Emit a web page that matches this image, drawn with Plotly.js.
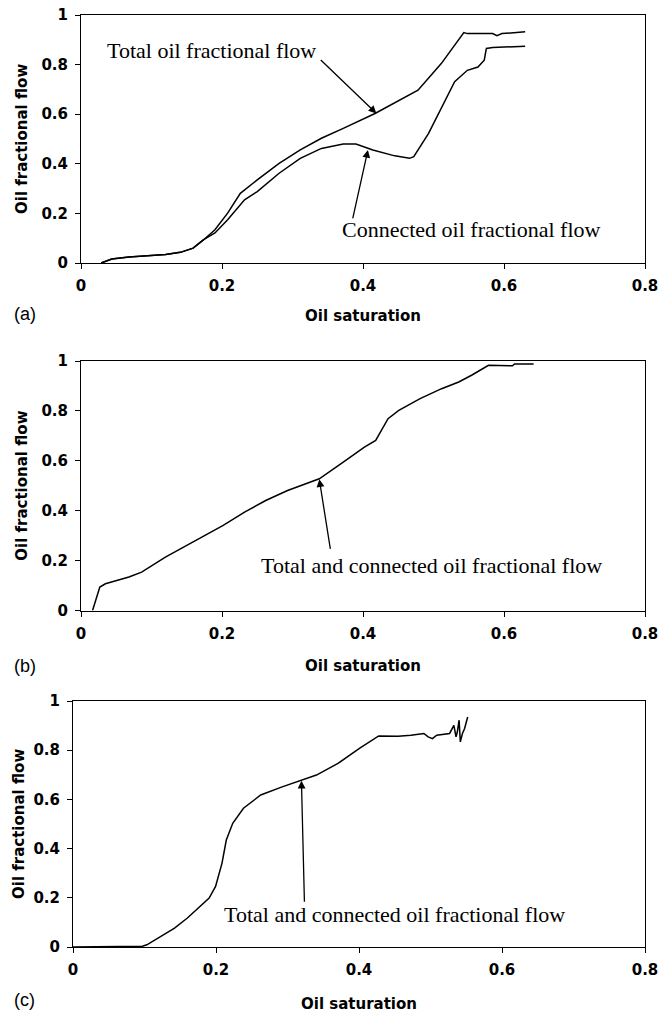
<!DOCTYPE html>
<html>
<head>
<meta charset="utf-8">
<script src="https://cdn.plot.ly/plotly-3.0.1.min.js"></script>
<style>
html,body{margin:0;padding:0;background:#fff;}
#chart{width:667px;height:1018px;}
</style>
</head>
<body>
<div id="chart"></div>
<script>
// ---- Data ----
const aTotalX = [0.0286,0.0437,0.068,0.098,0.12,0.141,0.159,0.174,0.19,0.208,0.226,0.25,0.281,0.311,0.341,0.372,0.417,0.478,0.511,0.543,0.548,0.584,0.590,0.597,0.630];
const aTotalY = [0,0.016,0.024,0.029,0.034,0.043,0.06,0.094,0.134,0.201,0.281,0.335,0.402,0.456,0.503,0.543,0.603,0.697,0.804,0.929,0.925,0.925,0.917,0.925,0.932];
const aConnX = [0.0286,0.0437,0.068,0.098,0.12,0.141,0.159,0.174,0.19,0.208,0.232,0.25,0.281,0.311,0.341,0.372,0.39,0.414,0.445,0.466,0.472,0.493,0.530,0.548,0.563,0.572,0.575,0.584,0.630];
const aConnY = [0,0.016,0.024,0.029,0.034,0.043,0.06,0.094,0.121,0.174,0.255,0.288,0.362,0.422,0.462,0.480,0.480,0.456,0.432,0.422,0.429,0.523,0.731,0.777,0.79,0.818,0.865,0.869,0.874];

const bX = [0.0164,0.0225,0.0267,0.0346,0.0498,0.068,0.086,0.1045,0.1197,0.141,0.171,0.2017,0.232,0.262,0.293,0.317,0.338,0.372,0.402,0.418,0.4265,0.4355,0.4508,0.481,0.5115,0.5358,0.554,0.578,0.612,0.615,0.642];
const bY = [0,0.053,0.094,0.107,0.120,0.134,0.154,0.187,0.214,0.247,0.294,0.341,0.394,0.441,0.481,0.507,0.528,0.595,0.655,0.682,0.722,0.769,0.802,0.849,0.889,0.916,0.943,0.983,0.981,0.988,0.988];

const cX = [0,0.0703,0.082,0.0913,0.097,0.1033,0.118,0.142,0.160,0.178,0.1904,0.1994,0.2084,0.2144,0.2234,0.2384,0.2625,0.2925,0.3195,0.3405,0.3706,0.4006,0.4276,0.4547,0.4727,0.4907,0.4967,0.5027,0.5087,0.5267,0.5327,0.5357,0.5375,0.54,0.5417,0.5447,0.5477,0.552];
const cY = [0,0.003,0.005,0.003,0.003,0.009,0.036,0.077,0.118,0.165,0.199,0.246,0.341,0.435,0.503,0.564,0.618,0.651,0.678,0.699,0.746,0.807,0.858,0.857,0.861,0.868,0.854,0.847,0.861,0.868,0.901,0.854,0.874,0.922,0.834,0.868,0.888,0.935];

const xTicks = [0,0.2,0.4,0.6,0.8];
const xTickLabels = ['0','0.2','0.4','0.6','0.8'];
const yTicks = [0,0.2,0.4,0.6,0.8,1];
const yTickLabels = ['0','0.2','0.4','0.6','0.8','1'];

const panelLabels = ['(a)','(b)','(c)'];
const xTitle = 'Oil saturation';
const yTitle = 'Oil fractional flow';
const labelTotal = 'Total oil fractional flow';
const labelConn = 'Connected oil fractional flow';
const labelBoth = 'Total and connected oil fractional flow';

// ---- Layout helpers ----
const W = 667, H = 1018;
const px = v => v / W;
const py = v => 1 - v / H;

const lineStyle = {color:'#000', width:1.5};
const sansBold = {family:'DejaVu Sans, Verdana, sans-serif', size:15, color:'#000', weight:'bold'};
const annFont = {family:'Liberation Serif, Times New Roman, serif', size:22, color:'#000'};

function xAxis(domain, anchor){
  return {domain:domain, anchor:anchor, range:[0,0.8], tickvals:xTicks, ticktext:xTickLabels,
    ticks:'outside', ticklen:5, tickwidth:1, tickcolor:'#000', ticklabelstandoff:4,
    showline:true, linecolor:'#000', linewidth:1, mirror:true,
    showgrid:false, zeroline:false, tickfont:sansBold, fixedrange:true};
}
function yAxis(domain, anchor){
  return {domain:domain, anchor:anchor, range:[0,1], tickvals:yTicks, ticktext:yTickLabels,
    ticks:'outside', ticklen:5, tickwidth:1, tickcolor:'#000', ticklabelstandoff:4,
    showline:true, linecolor:'#000', linewidth:1, mirror:true,
    showgrid:false, zeroline:false, tickfont:sansBold, fixedrange:true};
}

const traces = [
  {x:aTotalX, y:aTotalY, xaxis:'x', yaxis:'y', mode:'lines', line:lineStyle, name:labelTotal},
  {x:aConnX, y:aConnY, xaxis:'x', yaxis:'y', mode:'lines', line:lineStyle, name:labelConn},
  {x:bX, y:bY, xaxis:'x2', yaxis:'y2', mode:'lines', line:lineStyle, name:labelBoth},
  {x:cX, y:cY, xaxis:'x3', yaxis:'y3', mode:'lines', line:lineStyle, name:labelBoth}
];

function txt(xref, yref, x, y, text){
  return {xref:xref, yref:yref, x:x, y:y, text:text, showarrow:false, xanchor:'left', yanchor:'middle', font:annFont};
}
function arrow(xref, yref, x, y, ax, ay){
  return {xref:xref, yref:yref, axref:xref, ayref:yref, x:x, y:y, ax:ax, ay:ay, text:'',
    showarrow:true, arrowhead:2, arrowsize:1.2, arrowwidth:1.3, arrowcolor:'#000', standoff:0, startstandoff:0};
}
function plabel(x, y, t){
  return {xref:'paper', yref:'paper', x:px(x), y:py(y), text:t, showarrow:false, xanchor:'left', yanchor:'middle',
    font:{family:'Liberation Sans, Arial, sans-serif', size:18, color:'#000'}};
}
function xt(x, y){
  return {xref:'paper', yref:'paper', x:px(x), y:py(y), text:xTitle, showarrow:false, xanchor:'center', yanchor:'middle', font:sansBold};
}
function yt(x, y){
  return {xref:'paper', yref:'paper', x:px(x), y:py(y), text:yTitle, textangle:-90, showarrow:false, xanchor:'center', yanchor:'middle', font:sansBold};
}

// frame positions in pixels
const L1 = 81, L3 = 73, R = 645;
const A = [15, 263], B = [361, 610.5], C = [701, 947];

const annotations = [
  txt('x','y',0.0346,0.858,labelTotal),
  arrow('x','y',0.419,0.603,0.338,0.824),
  txt('x','y',0.368,0.134,labelConn),
  arrow('x','y',0.407,0.456,0.385,0.174),
  txt('x2','y2',0.253,0.18,labelBoth),
  arrow('x2','y2',0.338,0.526,0.354,0.241),
  txt('x3','y3',0.209,0.131,labelBoth),
  arrow('x3','y3',0.3195,0.676,0.3237,0.178),
  xt((L1+R)/2, A[1]+53), yt(22, (A[0]+A[1])/2),
  xt((L1+R)/2, B[1]+55), yt(22, (B[0]+B[1])/2),
  xt((L3+R)/2, C[1]+57), yt(19, (C[0]+C[1])/2),
  plabel(12, A[1]+51, panelLabels[0]),
  plabel(12, B[1]+55, panelLabels[1]),
  plabel(12, C[1]+53, panelLabels[2])
];

const layout = {
  width:W, height:H,
  margin:{l:0,r:0,t:0,b:0},
  paper_bgcolor:'#fff', plot_bgcolor:'#fff',
  showlegend:false,
  xaxis: xAxis([px(L1), px(R)], 'y'),
  yaxis: yAxis([py(A[1]), py(A[0])], 'x'),
  xaxis2: xAxis([px(L1), px(R)], 'y2'),
  yaxis2: yAxis([py(B[1]), py(B[0])], 'x2'),
  xaxis3: xAxis([px(L3), px(R)], 'y3'),
  yaxis3: yAxis([py(C[1]), py(C[0])], 'x3'),
  annotations: annotations
};

Plotly.newPlot('chart', traces, layout, {displayModeBar:false, staticPlot:true});
</script>
</body>
</html>
